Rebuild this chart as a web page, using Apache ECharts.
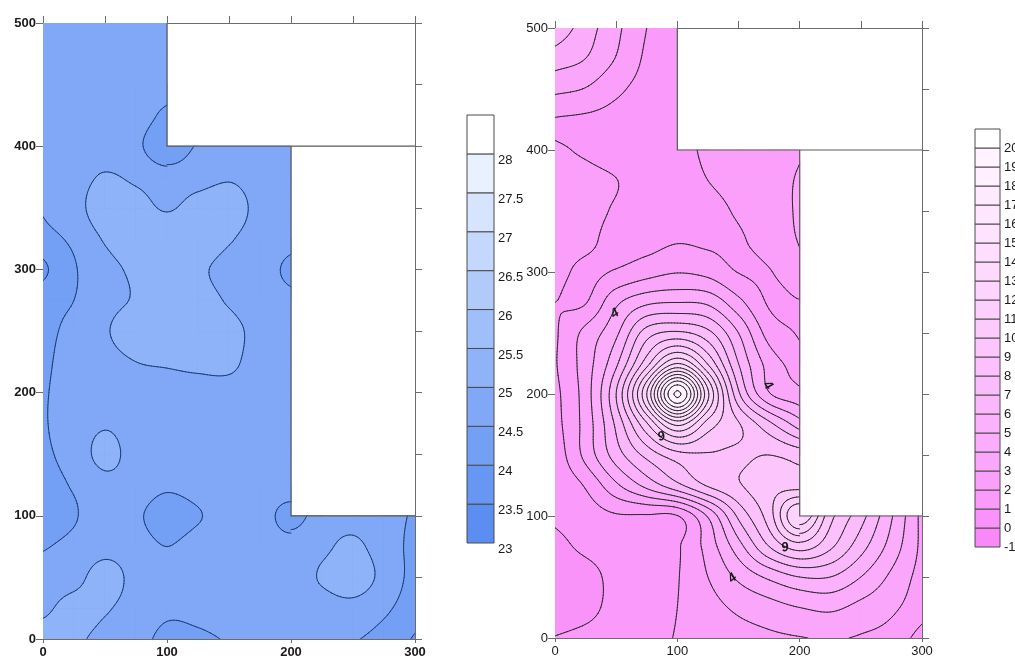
<!DOCTYPE html>
<html>
<head>
<meta charset="utf-8">
<title>contour maps</title>
<script src="https://cdn.jsdelivr.net/npm/echarts@6.0.0/dist/echarts.min.js"></script>
<style>
  html, body { margin: 0; padding: 0; background: #fff; }
  #main { width: 1015px; height: 661px; }
</style>
</head>
<body>
<div id="main"></div>
<script>
// grid spacing of the sampled values (same on both maps)
const step = 25;

// left map, rows listed from y=500 (top) down to y=0, columns x=0..300
const N_ = null;
const leftRows = [
  [24.75, 24.75, 24.75, 24.75, 24.75, N_, N_, N_, N_, N_, N_, N_, N_],
  [24.75, 24.75, 24.75, 24.75, 24.75, N_, N_, N_, N_, N_, N_, N_, N_],
  [24.75, 24.75, 24.75, 24.75, 24.8, N_, N_, N_, N_, N_, N_, N_, N_],
  [24.75, 24.75, 24.75, 24.75, 24.35, N_, N_, N_, N_, N_, N_, N_, N_],
  [24.75, 24.75, 24.75, 24.6, 24.15, 24.55, 24.75, 24.75, 24.75, N_, N_, N_, N_],
  [24.75, 24.8, 25.05, 24.9, 24.7, 24.8, 24.95, 24.8, 24.75, N_, N_, N_, N_],
  [24.55, 24.8, 25.3, 25.2, 24.95, 25.2, 25.25, 24.85, 24.75, N_, N_, N_, N_],
  [24.35, 24.6, 25.05, 25.25, 25.35, 25.3, 25.05, 24.8, 24.7, N_, N_, N_, N_],
  [23.9, 24.45, 24.85, 25.1, 25.4, 25.1, 24.85, 24.75, 24.35, N_, N_, N_, N_],
  [24.3, 24.5, 24.85, 25.05, 25.35, 25.2, 24.95, 24.75, 24.65, N_, N_, N_, N_],
  [24.35, 24.65, 24.95, 25.25, 25.35, 25.3, 25.15, 24.85, 24.75, N_, N_, N_, N_],
  [24.4, 24.7, 24.85, 25.0, 25.05, 25.1, 25.1, 24.8, 24.75, N_, N_, N_, N_],
  [24.45, 24.7, 24.8, 24.85, 24.85, 24.85, 24.85, 24.8, 24.75, N_, N_, N_, N_],
  [24.45, 24.75, 24.95, 24.8, 24.8, 24.8, 24.8, 24.8, 24.75, N_, N_, N_, N_],
  [24.4, 24.7, 25.15, 24.8, 24.8, 24.8, 24.8, 24.8, 24.75, N_, N_, N_, N_],
  [24.3, 24.55, 24.85, 24.8, 24.6, 24.75, 24.8, 24.8, 24.8, N_, N_, N_, N_],
  [24.15, 24.45, 24.8, 24.6, 24.2, 24.45, 24.8, 24.75, 24.3, 24.75, 24.8, 24.65, 24.45],
  [24.45, 24.65, 24.85, 24.75, 24.5, 24.75, 24.8, 24.8, 24.7, 24.9, 25.1, 24.75, 24.35],
  [24.75, 24.85, 25.2, 24.85, 24.75, 24.75, 24.75, 24.75, 24.75, 25.05, 25.25, 24.85, 24.3],
  [24.9, 25.15, 25.05, 24.8, 24.6, 24.65, 24.75, 24.75, 24.75, 24.8, 24.85, 24.6, 24.2],
  [25.25, 25.1, 24.85, 24.7, 24.35, 24.4, 24.55, 24.75, 24.75, 24.7, 24.55, 24.3, 23.95]
];

// right map, same layout
const rightRows = [
  [5.75, 4.5, 3.25, 2.0, 1.6, N_, N_, N_, N_, N_, N_, N_, N_],
  [4.5, 4.0, 2.95, 1.85, 1.6, N_, N_, N_, N_, N_, N_, N_, N_],
  [3.25, 2.95, 2.2, 1.7, 1.6, N_, N_, N_, N_, N_, N_, N_, N_],
  [1.95, 1.85, 1.7, 1.6, 1.6, N_, N_, N_, N_, N_, N_, N_, N_],
  [2.1, 1.9, 1.6, 1.55, 1.6, 2.2, 2.3, 2.5, 2.9, N_, N_, N_, N_],
  [2.3, 2.25, 2.02, 1.6, 1.6, 2.0, 2.3, 2.6, 3.1, N_, N_, N_, N_],
  [2.45, 2.3, 1.9, 1.6, 1.6, 1.75, 2.1, 2.5, 3.15, N_, N_, N_, N_],
  [2.4, 2.2, 1.7, 1.7, 1.95, 1.85, 1.9, 2.4, 3.05, N_, N_, N_, N_],
  [2.3, 1.8, 2.1, 2.6, 2.95, 2.7, 1.97, 1.95, 2.7, N_, N_, N_, N_],
  [2.0, 1.95, 3.8, 4.8, 5.0, 4.8, 3.3, 1.9, 1.95, N_, N_, N_, N_],
  [1.85, 3.3, 4.8, 7.5, 8.2, 7.3, 5.0, 2.6, 1.9, N_, N_, N_, N_],
  [1.9, 3.5, 5.8, 9.6, 13.0, 9.9, 6.0, 3.6, 2.5, N_, N_, N_, N_],
  [1.7, 3.5, 7.0, 13.0, 20.2, 13.2, 7.2, 4.1, 3.3, N_, N_, N_, N_],
  [1.6, 3.4, 6.2, 9.8, 13.2, 10.5, 9.1, 7.3, 5.5, N_, N_, N_, N_],
  [1.3, 3.3, 5.5, 7.3, 8.6, 8.9, 8.8, 9.0, 8.6, N_, N_, N_, N_],
  [1.2, 2.1, 3.8, 5.3, 6.7, 8.1, 8.9, 9.6, 9.6, N_, N_, N_, N_],
  [1.15, 1.5, 1.9, 1.9, 1.95, 4.1, 7.2, 9.5, 13.0, 9.35, 7.4, 5.1, 2.7],
  [0.7, 1.2, 1.5, 1.7, 1.9, 3.4, 5.6, 8.0, 9.5, 8.2, 6.4, 4.6, 2.75],
  [0.4, 0.65, 1.3, 1.6, 1.95, 3.0, 4.2, 5.2, 6.0, 6.0, 5.0, 3.8, 2.6],
  [0.35, 0.7, 1.3, 1.6, 2.0, 2.6, 3.2, 3.6, 4.0, 4.2, 3.7, 3.2, 2.4],
  [1.05, 1.3, 1.5, 1.7, 2.05, 2.3, 2.6, 2.8, 2.95, 3.1, 2.9, 2.6, 1.6]
];

// contour levels = colour bar tick labels
const leftLevels = [23, 23.5, 24, 24.5, 25, 25.5, 26, 26.5, 27, 27.5, 28];
const rightLevels = [-1, 0, 1, 2, 3, 4, 5, 6, 7, 8, 9, 10, 11, 12, 13, 14, 15, 16, 17, 18, 19, 20];

// labels written on the right map's contour lines
const lineLabelPos = [[49, 266], [87, 165], [174, 207], [188, 74], [145, 49]];
const lineLabelText = ['4', '9', '4', '9', '4'];
const lineLabelAngle = [35, 20, -50, 15, 40];

// outline of the blanked (no data) part of both maps
const blankEdges = [
  [[100, 500], [100, 400], [300, 400]],
  [[200, 400], [200, 100], [300, 100]]
];

const leftColors = ['#5b8ef0', '#6797f2', '#739ff4', '#80a8f7', '#8eb3f8', '#9ebff9',
  '#b0cbfa', '#c3d8fc', '#d6e4fd', '#eaf1fe', '#ffffff'];
const rightColors = rightLevels.map((l, k) => {
  if (k === rightLevels.length - 1) return '#ffffff';
  const t = k / (rightLevels.length - 2);
  const g = Math.round(137 + 106 * Math.pow(t, 0.8));
  const rb = Math.round(249 + 6 * t);
  return 'rgb(' + rb + ',' + g + ',' + rb + ')';
});

function makeContour(rows, levels, colors, lineColor) {
  const ny = rows.length, nx = rows[0].length, N = 10;
  const get = (i, j) => (i < 0 || j < 0 || i >= nx || j >= ny) ? null : rows[ny - 1 - j][i];
  const cubic = (p0, p1, p2, p3, t) => 0.5 * (2 * p1 + (p2 - p0) * t +
    (2 * p0 - 5 * p1 + 4 * p2 - p3) * t * t + (3 * p1 - p0 - 3 * p2 + p3) * t * t * t);
  const along = (p0, p1, p2, p3, t) => {
    if (p0 == null) p0 = 2 * p1 - p2;
    if (p3 == null) p3 = 2 * p2 - p1;
    return cubic(p0, p1, p2, p3, t);
  };
  const cache = {};
  function sub(i0, j0) {
    const key = i0 + '_' + j0;
    if (cache[key]) return cache[key];
    const s = [];
    for (let b = 0; b <= N; b++) s.push(new Array(N + 1));
    for (let a = 0; a <= N; a++) {
      const u = a / N;
      const col = [-1, 0, 1, 2].map(d => {
        const p1 = get(i0, j0 + d), p2 = get(i0 + 1, j0 + d);
        if (p1 == null || p2 == null) return null;
        return along(get(i0 - 1, j0 + d), p1, p2, get(i0 + 2, j0 + d), u);
      });
      for (let b = 0; b <= N; b++) s[b][a] = along(col[0], col[1], col[2], col[3], b / N);
    }
    cache[key] = s;
    return s;
  }
  const cells = [];
  for (let j = 0; j < ny - 1; j++) {
    for (let i = 0; i < nx - 1; i++) {
      if ([get(i, j), get(i + 1, j), get(i, j + 1), get(i + 1, j + 1)].every(v => v != null)) {
        cells.push([i * step, j * step]);
      }
    }
  }
  function setup(api, e) {
    const x0 = api.value(0), y0 = api.value(1);
    const s = sub(Math.round(x0 / step), Math.round(y0 / step));
    const a0 = api.coord([x0, y0]), a1 = api.coord([x0 + step, y0 + step]);
    const L = a0[0] - e, W = a1[0] - a0[0] + 2 * e, B = a0[1] + e, H = a0[1] - a1[1] + 2 * e;
    const P = (u, v) => (L + u * W).toFixed(2) + ' ' + (B - v * H).toFixed(2);
    let lo = Infinity, hi = -Infinity;
    s.forEach(r => r.forEach(v => { if (v < lo) lo = v; if (v > hi) hi = v; }));
    return { s, P, lo, hi };
  }
  function fillItem(params, api) {
    const { s, P, lo, hi } = setup(api, 0.5);
    let base = 0;
    while (base < levels.length - 1 && lo >= levels[base + 1]) base++;
    const children = [{
      type: 'path',
      shape: { pathData: 'M' + P(0, 0) + 'L' + P(1, 0) + 'L' + P(1, 1) + 'L' + P(0, 1) + 'Z' },
      style: { fill: colors[base] }
    }];
    for (let k = base + 1; k < levels.length; k++) {
      const lv = levels[k];
      if (lv > hi) break;
      let d = '';
      for (let b = 0; b < N; b++) {
        for (let a = 0; a < N; a++) {
          const c = [s[b][a], s[b][a + 1], s[b + 1][a + 1], s[b + 1][a]];
          if (c.every(v => v < lv)) continue;
          const pu = [a, a + 1, a + 1, a], pv = [b, b, b + 1, b + 1];
          const pts = [];
          for (let q = 0; q < 4; q++) {
            const n = (q + 1) % 4;
            if (c[q] >= lv) pts.push(P(pu[q] / N, pv[q] / N));
            if ((c[q] >= lv) !== (c[n] >= lv)) {
              const t = (lv - c[q]) / (c[n] - c[q]);
              pts.push(P((pu[q] + t * (pu[n] - pu[q])) / N, (pv[q] + t * (pv[n] - pv[q])) / N));
            }
          }
          d += 'M' + pts.join('L') + 'Z';
        }
      }
      if (d) children.push({ type: 'path', shape: { pathData: d }, style: { fill: colors[k] } });
    }
    return { type: 'group', children };
  }
  function lineItem(params, api) {
    const { s, P, lo, hi } = setup(api, 0);
    let d = '';
    levels.forEach(lv => {
      if (lv <= lo || lv > hi) return;
      for (let b = 0; b < N; b++) {
        for (let a = 0; a < N; a++) {
          const c = [s[b][a], s[b][a + 1], s[b + 1][a + 1], s[b + 1][a]];
          const up = c.map(v => v >= lv);
          const pu = [a, a + 1, a + 1, a], pv = [b, b, b + 1, b + 1];
          const cross = [];
          for (let q = 0; q < 4; q++) {
            const n = (q + 1) % 4;
            if (up[q] !== up[n]) {
              const t = (lv - c[q]) / (c[n] - c[q]);
              cross[q] = P((pu[q] + t * (pu[n] - pu[q])) / N, (pv[q] + t * (pv[n] - pv[q])) / N);
            }
          }
          const idx = [0, 1, 2, 3].filter(q => cross[q]);
          if (idx.length === 2) {
            d += 'M' + cross[idx[0]] + 'L' + cross[idx[1]];
          } else if (idx.length === 4) {
            const mid = (c[0] + c[1] + c[2] + c[3]) / 4 >= lv;
            if (up[0] === mid) d += 'M' + cross[0] + 'L' + cross[1] + 'M' + cross[2] + 'L' + cross[3];
            else d += 'M' + cross[3] + 'L' + cross[0] + 'M' + cross[1] + 'L' + cross[2];
          }
        }
      }
    });
    if (!d) return { type: 'group', children: [] };
    return {
      type: 'path',
      shape: { pathData: d },
      style: { fill: 'none', stroke: lineColor, lineWidth: 1, lineCap: 'round', lineJoin: 'round' }
    };
  }
  return { cells, fillItem, lineItem };
}

const leftMap = makeContour(leftRows, leftLevels, leftColors, '#1d3f78');
const rightMap = makeContour(rightRows, rightLevels, rightColors, '#2e2a2e');

const axisGray = '#6b6b6b';
function plotAxes(gi, bold) {
  const line = { show: true, onZero: false, lineStyle: { color: axisGray, width: 1 } };
  const tick = len => ({ show: true, length: len, lineStyle: { color: axisGray } });
  const label = {
    color: '#1a1a1a', fontSize: 13, fontFamily: 'Liberation Sans, Arial, sans-serif',
    fontWeight: bold ? 'bold' : 'normal', margin: 7, showMinLabel: true, showMaxLabel: true
  };
  return {
    x: [
      { gridIndex: gi, type: 'value', position: 'bottom', min: 0, max: 300, interval: 100,
        axisLine: line, axisTick: tick(4), axisLabel: label, splitLine: { show: false } },
      { gridIndex: gi, type: 'value', position: 'top', min: 0, max: 300, interval: 50,
        axisLine: line, axisTick: tick(7), axisLabel: { show: false }, splitLine: { show: false } }
    ],
    y: [
      { gridIndex: gi, type: 'value', position: 'left', min: 0, max: 500, interval: 100,
        axisLine: line, axisTick: tick(7), axisLabel: label, splitLine: { show: false } },
      { gridIndex: gi, type: 'value', position: 'right', min: 0, max: 500, interval: 50,
        axisLine: line, axisTick: tick(7), axisLabel: { show: false }, splitLine: { show: false } }
    ]
  };
}

function barAxes(gi, levels, gap, align) {
  const top = levels[levels.length - 1];
  return {
    x: { gridIndex: gi, type: 'value', min: 0, max: 1, show: false },
    y: {
      gridIndex: gi, type: 'value', position: 'right', min: levels[0], max: top + gap, interval: gap,
      axisLine: { show: false }, axisTick: { show: false }, splitLine: { show: false },
      axisLabel: {
        color: '#1a1a1a', fontSize: 13, fontFamily: 'Liberation Sans, Arial, sans-serif',
        margin: 4, verticalAlign: align, showMinLabel: true, showMaxLabel: true,
        formatter: v => (v > top ? '' : String(v))
      }
    }
  };
}

function barItem(levels, colors, gap) {
  return function (params, api) {
    const lv = api.value(1);
    const p0 = api.coord([0, lv]), p1 = api.coord([1, lv + gap]);
    return {
      type: 'rect',
      shape: { x: p0[0], y: p1[1], width: p1[0] - p0[0], height: p0[1] - p1[1] },
      style: { fill: colors[params.dataIndex], stroke: '#4a4a4a', lineWidth: 1 }
    };
  };
}

function blankItem(params, api) {
  return {
    type: 'polyline',
    shape: { points: blankEdges[params.dataIndex].map(p => api.coord(p)) },
    style: { fill: 'none', stroke: '#5a5a5a', lineWidth: 1.2 }
  };
}

const pa = plotAxes(0, true), pb = plotAxes(2, false);
const ba = barAxes(1, leftLevels, 0.5, 'top'), bb = barAxes(3, rightLevels, 1, 'middle');

const chart = echarts.init(document.getElementById('main'), null, { renderer: 'canvas' });
chart.setOption({
  animation: false,
  backgroundColor: '#ffffff',
  grid: [
    { left: 43, top: 23, width: 372, height: 616, outerBoundsMode: 'none' },
    { left: 467, top: 115, width: 27, height: 428, outerBoundsMode: 'none' },
    { left: 555, top: 28, width: 367, height: 610, outerBoundsMode: 'none' },
    { left: 975, top: 129, width: 25, height: 418, outerBoundsMode: 'none' }
  ],
  xAxis: [pa.x[0], pa.x[1], pb.x[0], pb.x[1], ba.x, bb.x],
  yAxis: [pa.y[0], pa.y[1], pb.y[0], pb.y[1], ba.y, bb.y],
  series: [
    { type: 'custom', xAxisIndex: 0, yAxisIndex: 0, data: leftMap.cells, renderItem: leftMap.fillItem, clip: true, silent: true, z: 2 },
    { type: 'custom', xAxisIndex: 0, yAxisIndex: 0, data: leftMap.cells, renderItem: leftMap.lineItem, clip: true, silent: true, z: 3 },
    { type: 'custom', xAxisIndex: 0, yAxisIndex: 0, data: blankEdges.map(e => e[0]), renderItem: blankItem, silent: true, z: 5 },
    { type: 'custom', xAxisIndex: 2, yAxisIndex: 2, data: rightMap.cells, renderItem: rightMap.fillItem, clip: true, silent: true, z: 2 },
    { type: 'custom', xAxisIndex: 2, yAxisIndex: 2, data: rightMap.cells, renderItem: rightMap.lineItem, clip: true, silent: true, z: 3 },
    { type: 'custom', xAxisIndex: 2, yAxisIndex: 2, data: blankEdges.map(e => e[0]), renderItem: blankItem, silent: true, z: 5 },
    {
      type: 'custom', xAxisIndex: 2, yAxisIndex: 2, data: lineLabelPos, silent: true, z: 6,
      renderItem: (params, api) => {
        const p = api.coord([api.value(0), api.value(1)]);
        return {
          type: 'text', x: p[0], y: p[1], rotation: lineLabelAngle[params.dataIndex] * Math.PI / 180,
          style: {
            text: lineLabelText[params.dataIndex], fill: '#1a1a1a', align: 'center', verticalAlign: 'middle',
            font: 'bold italic 13px Liberation Sans, Arial, sans-serif'
          }
        };
      }
    },
    { type: 'custom', xAxisIndex: 4, yAxisIndex: 4, data: leftLevels.map(l => [0, l]), renderItem: barItem(leftLevels, leftColors, 0.5), silent: true },
    { type: 'custom', xAxisIndex: 5, yAxisIndex: 5, data: rightLevels.map(l => [0, l]), renderItem: barItem(rightLevels, rightColors, 1), silent: true }
  ]
});
</script>
</body>
</html>
